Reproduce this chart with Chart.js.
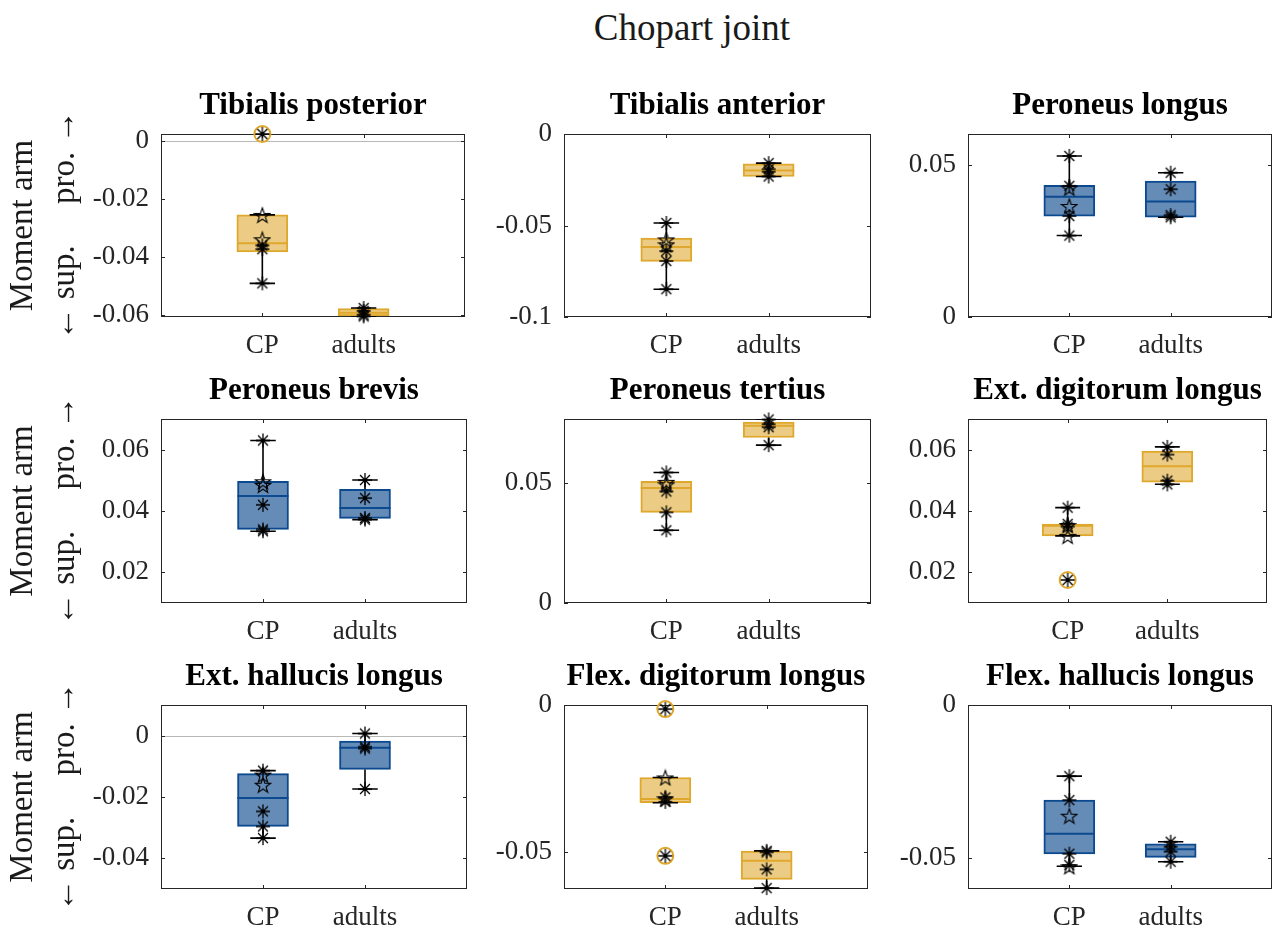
<!DOCTYPE html>
<html>
<head>
<meta charset="utf-8">
<title>Chopart joint</title>
<script src="https://cdn.jsdelivr.net/npm/chart.js@4.4.1/dist/chart.umd.min.js"></script>
<style>
  html, body { margin: 0; padding: 0; background: #fff; }
  body { width: 1277px; height: 928px; position: relative; overflow: hidden; font-family: 'Liberation Serif', serif; }
  #suptitle { position: absolute; left: 442px; top: 6px; width: 500px; text-align: center;
              font-size: 37px; line-height: 44px; color: #1a1a1a; }
  canvas { position: absolute; }
</style>
</head>
<body>
<div id="suptitle">Chopart joint</div>
<script>
// ---- data -----------------------------------------------------------------
const categories = ['CP', 'adults'];
const panelTitles = [
  'Tibialis posterior', 'Tibialis anterior', 'Peroneus longus',
  'Peroneus brevis', 'Peroneus tertius', 'Ext. digitorum longus',
  'Ext. hallucis longus', 'Flex. digitorum longus', 'Flex. hallucis longus'
];
const yMin = [-0.0606, -0.1, 0, 0.01, 0, 0.01, -0.05, -0.0627, -0.06];
const yMax = [0.0025, 0, 0.06, 0.07, 0.0767, 0.07, 0.01, 0, 0];
const yTicks = [
  [-0.06, -0.04, -0.02, 0], [-0.1, -0.05, 0], [0, 0.05],
  [0.02, 0.04, 0.06], [0, 0.05], [0.02, 0.04, 0.06],
  [-0.04, -0.02, 0], [-0.05, 0], [-0.05, 0]
];
// box statistics: [lower whisker, Q1, median, Q3, upper whisker]
const cpBox = [
  [-0.0490, -0.0382, -0.0352, -0.0254, -0.0254],
  [-0.0848, -0.0696, -0.0618, -0.0569, -0.0486],
  [0.0267, 0.0331, 0.0394, 0.0432, 0.0528],
  [0.0334, 0.0340, 0.0449, 0.0497, 0.0630],
  [0.0303, 0.0378, 0.0479, 0.0507, 0.0544],
  [0.0319, 0.0319, 0.0352, 0.0357, 0.0411],
  [-0.0334, -0.0296, -0.0203, -0.0124, -0.0114],
  [-0.0333, -0.0333, -0.0320, -0.0247, -0.0247],
  [-0.0526, -0.0486, -0.0420, -0.0310, -0.0232]
];
const adultBox = [
  [-0.0606, -0.0602, -0.0591, -0.0577, -0.0575],
  [-0.0232, -0.0232, -0.0199, -0.0163, -0.0159],
  [0.0327, 0.0327, 0.0379, 0.0446, 0.0473],
  [0.0372, 0.0376, 0.0410, 0.0471, 0.0501],
  [0.0658, 0.0690, 0.0739, 0.0754, 0.0767],
  [0.0487, 0.0494, 0.0546, 0.0595, 0.0609],
  [-0.0174, -0.0110, -0.0039, -0.0018, 0.0007],
  [-0.0624, -0.0594, -0.0531, -0.0498, -0.0497],
  [-0.0511, -0.0497, -0.0470, -0.0453, -0.0446]
];
// individual subjects
const cpAsterisk = [
  [0.0025, -0.0359, -0.0372, -0.0490],
  [-0.0486, -0.0640, -0.0694, -0.0848],
  [0.0528, 0.0430, 0.0331, 0.0267],
  [0.0630, 0.0420, 0.0340, 0.0334],
  [0.0544, 0.0465, 0.0378, 0.0303],
  [0.0411, 0.0358, 0.0349, 0.0175],
  [-0.0114, -0.0247, -0.0296, -0.0334],
  [-0.0014, -0.0315, -0.0330, -0.0514],
  [-0.0232, -0.0310, -0.0485, -0.0522]
];
const cpStar = [
  [-0.0254, -0.0338], [-0.0576, -0.0603], [0.0424, 0.0364],
  [0.0485, 0.0497], [0.0505, 0.0495], [0.0319, 0.0354],
  [-0.0127, -0.0160], [-0.0247, -0.0318], [-0.0361, -0.0526]
];
const adultAsterisk = [
  [-0.0575, -0.0585, -0.0598, -0.0604],
  [-0.0159, -0.0192, -0.0206, -0.0232],
  [0.0473, 0.0419, 0.0334, 0.0327],
  [0.0501, 0.0442, 0.0377, 0.0372],
  [0.0765, 0.0745, 0.0733, 0.0658],
  [0.0609, 0.0584, 0.0499, 0.0487],
  [0.0007, -0.0036, -0.0042, -0.0174],
  [-0.0497, -0.0502, -0.0560, -0.0624],
  [-0.0446, -0.0462, -0.0478, -0.0511]
];
const cpOutlier = [[0.0025], [], [], [], [], [0.0175], [], [-0.0014, -0.0514], []];
const adultOutlier = [[], [], [], [], [], [], [], [], []];

// ---- styles ---------------------------------------------------------------
const panelColour = ['gold', 'gold', 'blue', 'blue', 'gold', 'gold', 'blue', 'gold', 'blue'];
const palette = {
  gold: { fill: '#ECCC85', edge: '#DFA82D' },
  blue: { fill: '#658BB7', edge: '#0C4A8F' }
};
const FONT = "'Liberation Serif', serif";
const INK = '#262626';

const plotX = [[161, 467], [564, 871], [968, 1275]];
const plotY = [[134, 317], [419, 603], [705, 889]];
const canvasX = [[0, 475], [475, 878], [878, 1277]];
const TOP_PAD = 70, X_AXIS_H = 50;
const BOX_HALF = 0.25, CAP_HALF = 0.125;

// ---- marker glyphs --------------------------------------------------------
function makeAsterisk(size) {
  const c = document.createElement('canvas');
  c.width = c.height = size;
  const g = c.getContext('2d');
  const m = size / 2, r = size / 2 - 1, d = r * 0.7071;
  g.strokeStyle = '#000';
  g.lineWidth = 1.3;
  g.beginPath();
  g.moveTo(m, m - r); g.lineTo(m, m + r);
  g.moveTo(m - r, m); g.lineTo(m + r, m);
  g.moveTo(m - d, m - d); g.lineTo(m + d, m + d);
  g.moveTo(m - d, m + d); g.lineTo(m + d, m - d);
  g.stroke();
  g.fillStyle = '#000';
  g.beginPath(); g.arc(m, m, 1.8, 0, 2 * Math.PI); g.fill();
  return c;
}
function makePentagram(size) {
  const c = document.createElement('canvas');
  c.width = c.height = size;
  const g = c.getContext('2d');
  const m = size / 2, R = size / 2 - 1, r = R * 0.4;
  g.strokeStyle = '#000';
  g.lineWidth = 1.1;
  g.beginPath();
  for (let k = 0; k < 10; k++) {
    const ang = -Math.PI / 2 + k * Math.PI / 5;
    const rad = k % 2 ? r : R;
    const px = m + rad * Math.cos(ang), py = m + 1 + rad * Math.sin(ang);
    if (k) g.lineTo(px, py); else g.moveTo(px, py);
  }
  g.closePath();
  g.stroke();
  return c;
}
const asteriskImg = makeAsterisk(16);
const pentagramImg = makePentagram(18);

// ---- helpers --------------------------------------------------------------
function whiskerPoints(stats, pos) {
  const [lo, q1, , q3, hi] = stats;
  return [
    { x: pos, y: q3 }, { x: pos, y: hi }, { x: pos, y: null },
    { x: pos - CAP_HALF, y: hi }, { x: pos + CAP_HALF, y: hi }, { x: pos, y: null },
    { x: pos, y: q1 }, { x: pos, y: lo }, { x: pos, y: null },
    { x: pos - CAP_HALF, y: lo }, { x: pos + CAP_HALF, y: lo }, { x: pos, y: null }
  ];
}
function medianPoints(stats, pos) {
  return [{ x: pos - BOX_HALF, y: stats[2] }, { x: pos + BOX_HALF, y: stats[2] }, { x: pos, y: null }];
}
const pts = (vals, pos) => vals.map(v => ({ x: pos, y: v }));

// axes frame, inward ticks, zero reference, titles and y label
const panelDecor = {
  id: 'panelDecor',
  beforeDatasetsDraw(chart, args, o) {
    const { ctx, chartArea: a, scales: { x, y } } = chart;
    ctx.save();
    if (o.min < 0 && o.max > 0) {
      const py = Math.round(y.getPixelForValue(0)) + 0.5;
      ctx.strokeStyle = '#b8b8b8';
      ctx.lineWidth = 1;
      ctx.beginPath(); ctx.moveTo(a.left, py); ctx.lineTo(a.right, py); ctx.stroke();
    }
    ctx.strokeStyle = INK;
    ctx.lineWidth = 1;
    ctx.strokeRect(a.left + 0.5, a.top + 0.5, a.right - a.left - 1, a.bottom - a.top - 1);
    const tl = 4;
    ctx.beginPath();
    y.ticks.forEach(t => {
      const py = Math.round(y.getPixelForValue(t.value)) + 0.5;
      ctx.moveTo(a.left, py); ctx.lineTo(a.left + tl, py);
      ctx.moveTo(a.right, py); ctx.lineTo(a.right - tl, py);
    });
    x.ticks.forEach(t => {
      const px = Math.round(x.getPixelForValue(t.value)) + 0.5;
      ctx.moveTo(px, a.bottom); ctx.lineTo(px, a.bottom - tl);
      ctx.moveTo(px, a.top); ctx.lineTo(px, a.top + tl);
    });
    ctx.stroke();
    ctx.restore();
  },
  afterDraw(chart, args, o) {
    const { ctx, chartArea: a } = chart;
    ctx.save();
    ctx.fillStyle = '#000';
    ctx.font = `bold 31px ${FONT}`;
    ctx.textAlign = 'center';
    ctx.textBaseline = 'middle';
    ctx.fillText(o.title, (a.left + a.right) / 2, a.top - 28);
    if (o.yLabel) {
      const cy = (a.top + a.bottom) / 2;
      ctx.font = `33px ${FONT}`;
      ctx.fillStyle = '#1a1a1a';
      ctx.translate(23, cy);
      ctx.rotate(-Math.PI / 2);
      ctx.fillText('Moment arm', 0, 0);
      ctx.fillText('\u2190 sup.\u2003 pro. \u2192', 0, 42);
    }
    ctx.restore();
  }
};

// ---- build the nine panels -----------------------------------------------
for (let i = 0; i < 9; i++) {
  const r = Math.floor(i / 3), c = i % 3;
  const [cl, cr] = canvasX[c];
  const top = plotY[r][0] - TOP_PAD;
  const height = plotY[r][1] + X_AXIS_H - top;
  const cv = document.createElement('canvas');
  cv.width = cr - cl; cv.height = height;
  cv.style.left = cl + 'px'; cv.style.top = top + 'px';
  cv.style.width = (cr - cl) + 'px'; cv.style.height = height + 'px';
  document.body.appendChild(cv);

  const col = palette[panelColour[i]];
  const yAxisW = plotX[c][0] - cl;
  const rightPad = cr - plotX[c][1];

  const datasets = [
    {
      type: 'bar',
      data: [{ x: 1, y: [cpBox[i][1], cpBox[i][3]] }, { x: 2, y: [adultBox[i][1], adultBox[i][3]] }],
      backgroundColor: col.fill, borderColor: col.edge, borderWidth: 2,
      borderSkipped: false, barThickness: 51, grouped: false, order: 6
    },
    {
      type: 'line',
      data: [...medianPoints(cpBox[i], 1), ...medianPoints(adultBox[i], 2)],
      borderColor: col.edge, borderWidth: 2, pointRadius: 0, spanGaps: false, order: 5
    },
    {
      type: 'line',
      data: [...whiskerPoints(cpBox[i], 1), ...whiskerPoints(adultBox[i], 2)],
      borderColor: '#000', borderWidth: 1.6, pointRadius: 0, spanGaps: false, order: 4
    },
    {
      type: 'scatter',
      data: [...pts(cpOutlier[i], 1), ...pts(adultOutlier[i], 2)],
      pointStyle: 'circle', pointRadius: 8, borderWidth: 2,
      borderColor: col.edge, backgroundColor: 'rgba(0,0,0,0)', clip: false, order: 3
    },
    {
      type: 'scatter',
      data: [...pts(cpStar[i], 1)],
      pointStyle: pentagramImg, clip: false, order: 2
    },
    {
      type: 'scatter',
      data: [...pts(cpAsterisk[i], 1), ...pts(adultAsterisk[i], 2)],
      pointStyle: asteriskImg, clip: false, order: 1
    }
  ];

  new Chart(cv, {
    type: 'scatter',
    data: { datasets },
    options: {
      responsive: false,
      animation: false,
      devicePixelRatio: 1,
      events: [],
      layout: { padding: { left: 0, right: rightPad, top: TOP_PAD, bottom: 0 } },
      plugins: {
        legend: { display: false },
        tooltip: { enabled: false },
        panelDecor: { title: panelTitles[i], yLabel: c === 0, min: yMin[i], max: yMax[i] }
      },
      scales: {
        x: {
          type: 'linear', min: 0, max: 3, offset: false, bounds: 'data',
          afterBuildTicks: s => { s.ticks = categories.map((_, k) => ({ value: k + 1 })); },
          afterFit: s => { s.height = X_AXIS_H; },
          ticks: {
            callback: v => categories[v - 1] ?? '',
            font: { family: FONT, size: 27 }, color: INK, padding: 13, maxRotation: 0
          },
          grid: { display: false, drawTicks: false, offset: false },
          border: { display: false }
        },
        y: {
          type: 'linear', min: yMin[i], max: yMax[i], offset: false,
          afterBuildTicks: s => { s.ticks = yTicks[i].map(v => ({ value: v })); },
          afterFit: s => { s.width = yAxisW; },
          ticks: {
            callback: v => String(v),
            font: { family: FONT, size: 27 }, color: INK, padding: 12
          },
          grid: { display: false, drawTicks: false },
          border: { display: false }
        }
      }
    },
    plugins: [panelDecor]
  });
}
</script>
</body>
</html>
